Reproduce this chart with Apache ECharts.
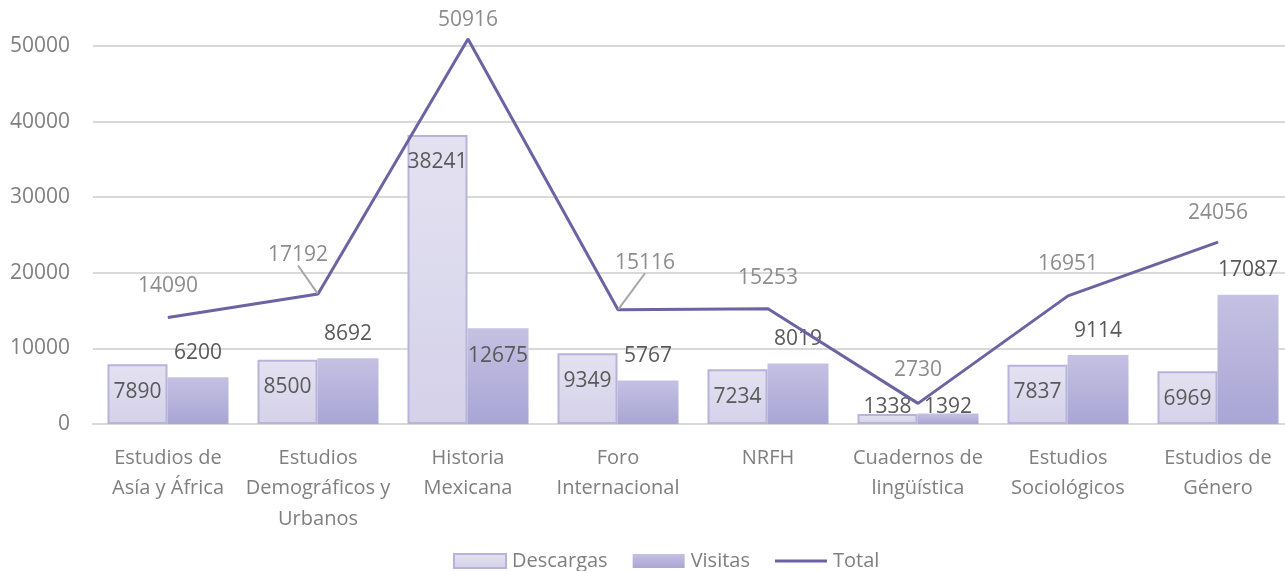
<!DOCTYPE html>
<html><head><meta charset="utf-8">
<script src="https://cdn.jsdelivr.net/npm/echarts@6/dist/echarts.min.js"></script>
<style>html,body{margin:0;padding:0;background:#fff}#c{width:1285px;height:571px}</style>
</head><body><div id="c"></div>
<script>
const categories = ['Estudios de\nAsía y África','Estudios\nDemográficos y\nUrbanos','Historia\nMexicana','Foro\nInternacional','NRFH','Cuadernos de\nlingüística','Estudios\nSociológicos','Estudios de\nGénero'];
const descargas = [7890, 8500, 38241, 9349, 7234, 1338, 7837, 6969];
const visitas = [6200, 8692, 12675, 5767, 8019, 1392, 9114, 17087];
const total = [14090, 17192, 50916, 15116, 15253, 2730, 16951, 24056];
const yTicks = [0, 10000, 20000, 30000, 40000, 50000];

const FONT = 'Open Sans';
const chart = echarts.init(document.getElementById('c'));

const descData = descargas.map((v, i) => {
  if (v < 3000) return { value: v, label: { position: 'top', distance: -4 } };
  return { value: v };
});
const visData = visitas.map((v, i) => {
  if (i === 2) return { value: v, label: { position: 'insideTop', distance: 17 } };
  if (v < 3000) return { value: v, label: { position: 'top', distance: -4 } };
  return { value: v };
});
const lineShift = { 0: [0, -15], 1: [-20, -23], 2: [0, -3], 3: [27, -31], 4: [0, -15], 5: [0, -17], 6: [0, -16], 7: [0, -13] };
const lineData = total.map((v, i) => {
  if (i === 1 || i === 3) return { value: v, labelLine: { show: true } };
  return { value: v };
});

chart.setOption({
  animation: false,
  textStyle: { fontFamily: FONT },
  grid: { left: 93, width: 1200, top: 46, bottom: 147, containLabel: false, outerBoundsMode: 'none' },
  legend: {
    left: 448, top: 546,
    itemWidth: 52, itemHeight: 14, itemGap: 25,
    textStyle: { fontSize: 20, color: '#7f7f7f', fontFamily: FONT, padding: [0, 0, 0, 1] },
    data: [
      { name: 'Descargas', icon: 'rect' },
      { name: 'Visitas', icon: 'rect' },
      { name: 'Total', icon: 'path://M0,0H52V3H0Z' }
    ]
  },
  xAxis: {
    type: 'category', data: categories,
    axisLine: { lineStyle: { color: '#d9d9d9', width: 2 } },
    axisTick: { show: false },
    axisLabel: { fontSize: 20, color: '#7f7f7f', lineHeight: 30.5, margin: 19, interval: 0, fontFamily: FONT }
  },
  yAxis: {
    type: 'value', min: yTicks[0], max: yTicks[yTicks.length - 1], interval: 10000,
    axisLine: { show: false }, axisTick: { show: false },
    splitLine: { lineStyle: { color: '#d9d9d9', width: 2 } },
    axisLabel: { fontSize: 21, color: '#7f7f7f', margin: 23, fontFamily: FONT, formatter: (v) => String(v) }
  },
  series: [
    {
      name: 'Descargas', type: 'bar', data: descData, barWidth: 60, barGap: '0%',
      itemStyle: {
        color: new echarts.graphic.LinearGradient(0, 0, 0, 1, [{ offset: 0, color: '#e4e2f1' }, { offset: 1, color: '#d4d1e9' }]),
        borderColor: '#b7b3db', borderWidth: 2
      },
      label: { show: true, position: 'insideTop', distance: 17, fontSize: 21, color: '#595959', fontFamily: FONT }
    },
    {
      name: 'Visitas', type: 'bar', data: visData, barWidth: 61,
      itemStyle: {
        color: new echarts.graphic.LinearGradient(0, 0, 0, 1, [{ offset: 0, color: '#c4c1e3' }, { offset: 1, color: '#a9a5d5' }])
      },
      label: { show: true, position: 'top', distance: 14, fontSize: 21, color: '#595959', fontFamily: FONT }
    },
    {
      name: 'Total', type: 'line', data: lineData, clip: false,
      symbol: 'circle', symbolSize: 1, showSymbol: true,
      lineStyle: { color: '#6b64a3', width: 3 },
      itemStyle: { color: '#6b64a3' },
      label: { show: true, position: 'top', distance: 5, fontSize: 21, color: '#8c8c8c', fontFamily: FONT },
      labelLine: { show: false, lineStyle: { color: '#a6a6a6', width: 2 } },
      labelLayout: function (p) {
        const s = lineShift[p.dataIndex] || [0, 0];
        return { dx: s[0], dy: s[1] };
      },
      z: 5
    }
  ]
});
</script>
</body></html>
